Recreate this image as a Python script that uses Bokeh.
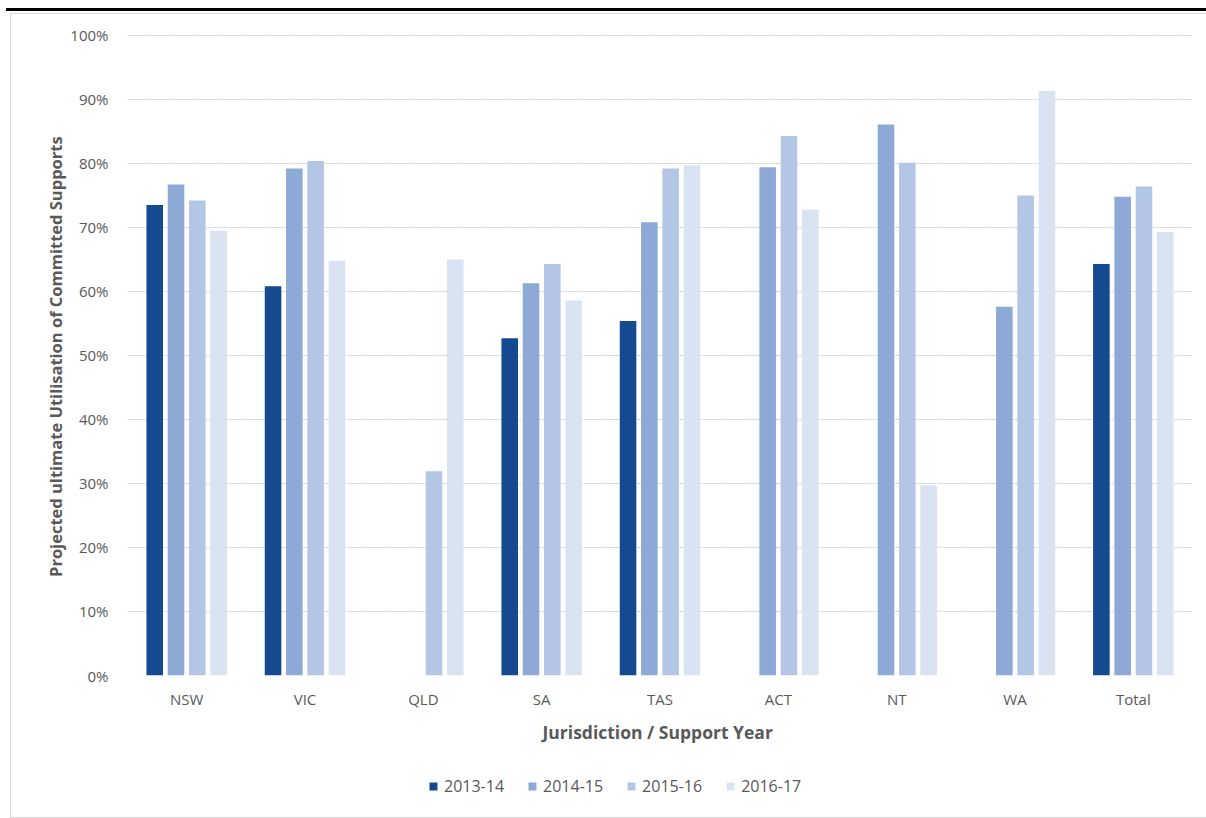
from bokeh.plotting import figure
from bokeh.layouts import column
from bokeh.models import (ColumnDataSource, FactorRange, Range1d, NumeralTickFormatter,
                          Legend, LegendItem, FixedTicker, Div)
from bokeh.transform import dodge
from bokeh.embed import file_html
from bokeh.resources import INLINE

nan = float("nan")

categories = ["NSW", "VIC", "QLD", "SA", "TAS", "ACT", "NT", "WA", "Total"]
years = ["2013-14", "2014-15", "2015-16", "2016-17"]
v2013_14 = [0.735, 0.608, nan, 0.527, 0.554, nan, nan, nan, 0.643]
v2014_15 = [0.767, 0.792, nan, 0.613, 0.708, 0.794, 0.861, 0.576, 0.748]
v2015_16 = [0.742, 0.804, 0.319, 0.643, 0.792, 0.843, 0.801, 0.750, 0.764]
v2016_17 = [0.695, 0.648, 0.650, 0.586, 0.797, 0.728, 0.297, 0.913, 0.693]
y_ticks = [0.0, 0.1, 0.2, 0.3, 0.4, 0.5, 0.6, 0.7, 0.8, 0.9, 1.0]

colors = ["#154A91", "#8DA9D5", "#B3C6E6", "#DAE3F2"]
offsets = [-0.27, -0.09, 0.09, 0.27]

src = ColumnDataSource(dict(cat=categories, a=v2013_14, b=v2014_15, c=v2015_16, d=v2016_17))
keys = ["a", "b", "c", "d"]

FONT = "Open Sans"
GREY = "#595959"

# main chart
p = figure(width=1196, height=747, x_range=FactorRange(factors=categories),
           y_range=Range1d(0, 1.003), output_backend="svg", toolbar_location=None,
           min_border_left=116, min_border_right=15, min_border_top=19, min_border_bottom=86)
p.outline_line_color = None
p.background_fill_color = "white"
p.border_fill_color = "white"

for k, off, col in zip(keys, offsets, colors):
    p.vbar(x=dodge("cat", off, range=p.x_range), top=k, width=0.14, source=src,
           fill_color=col, line_color=None)

p.xgrid.grid_line_color = None
p.ygrid.grid_line_color = "#cfcfcf"
p.ygrid.grid_line_dash = "2 1"
p.ygrid.grid_line_width = 1

p.yaxis.ticker = FixedTicker(ticks=y_ticks)
p.yaxis.formatter = NumeralTickFormatter(format="0%")
for ax in (p.xaxis[0], p.yaxis[0]):
    ax.axis_line_color = None
    ax.major_tick_line_color = None
    ax.minor_tick_line_color = None
    ax.major_label_text_font = FONT
    ax.major_label_text_font_size = "15px"
    ax.major_label_text_color = GREY
    ax.axis_label_text_font = FONT
    ax.axis_label_text_font_style = "bold"
    ax.axis_label_text_color = GREY

p.yaxis.axis_label = "Projected ultimate Utilisation  of Committed Supports"
p.yaxis.axis_label_text_font_size = "16.5px"
p.yaxis.major_label_standoff = 13
p.yaxis.axis_label_standoff = 0
p.xaxis.axis_label = "Jurisdiction  / Support Year"
p.xaxis.axis_label_text_font_size = "17.5px"
p.xaxis.major_label_standoff = 7
p.xaxis.axis_label_standoff = 8

# legend strip (same series, drawn outside its visible y window so only the legend shows)
lf = figure(width=1196, height=56, x_range=FactorRange(factors=categories),
            y_range=Range1d(2, 3), output_backend="svg", toolbar_location=None,
            min_border=0, x_axis_location=None, y_axis_location=None)
lf.outline_line_color = None
lf.xgrid.grid_line_color = None
lf.ygrid.grid_line_color = None
lrs = []
for k, off, col in zip(keys, offsets, colors):
    lrs.append(lf.vbar(x=dodge("cat", off, range=lf.x_range), top=k, width=0.14, source=src,
                       fill_color=col, line_color=None))

legend = Legend(items=[LegendItem(label=y, renderers=[r]) for y, r in zip(years, lrs)],
                location=(301, 20), orientation="horizontal",
                border_line_color=None, background_fill_alpha=0,
                glyph_width=10, glyph_height=10, label_standoff=6, spacing=23,
                padding=0, margin=0, label_text_font=FONT, label_text_font_size="16px",
                label_text_color=GREY)
lf.add_layout(legend)

box = column(p, lf, spacing=0, margin=(2, 0, 0, 10), styles={"border": "1px solid #d9d9d9"})
top_line = Div(width=1200, height=3, margin=(8, 0, 0, 6), styles={"background-color": "black"})

layout = column(top_line, box, spacing=0)

open("out.html", "w").write(file_html(layout, INLINE))
